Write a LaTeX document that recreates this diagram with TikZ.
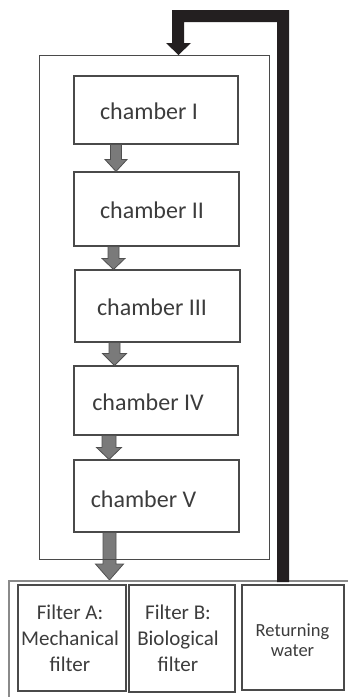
\documentclass[tikz,border=0pt]{standalone}
\usepackage{fontspec}
\setmainfont{Carlito}
\usetikzlibrary{calc}
\definecolor{boxline}{HTML}{4A4A4A}
\definecolor{txt}{HTML}{3C3C3C}
\definecolor{arrfill}{HTML}{7A7A7A}
\definecolor{arrline}{HTML}{505050}
\definecolor{pipe}{HTML}{231F20}
\definecolor{frameline}{HTML}{8A8A8A}
\tikzset{
  chamberbox/.style={draw=boxline, line width=1.1pt, inner sep=0pt, minimum width=#1},
  filterbox/.style={draw=boxline, line width=1.1pt, inner sep=0pt},
  chambertext/.style={text=txt, inner sep=0pt, font=\fontsize{24}{28}\selectfont},
  filtertext/.style={text=txt, inner sep=0pt, align=center, font=\fontsize{21}{26}\selectfont},
  rwtext/.style={text=txt, inner sep=0pt, align=center, font=\fontsize{18.5}{20}\selectfont},
  garrowstyle/.style={fill=arrfill, draw=arrline, line width=0.8pt, line join=miter},
}
% #1 top node, #2 bottom node, #3 x centre, #4 shaft half width, #5 head half width, #6 head length
\newcommand\grayarrow[6]{%
  \path let \p1=(#1.south), \p2=(#2.north) in [garrowstyle]
    (#3pt-#4pt,\y1) -- (#3pt+#4pt,\y1) -- (#3pt+#4pt,\y2+#6pt) -- (#3pt+#5pt,\y2+#6pt)
    -- (#3pt,\y2) -- (#3pt-#5pt,\y2+#6pt) -- (#3pt-#4pt,\y2+#6pt) -- cycle;}
\begin{document}
\begin{tikzpicture}[x=1pt,y=-1pt]
\useasboundingbox (0,0) rectangle (348,697);
% chambers
\node[chamberbox=164pt, minimum height=68pt] (c1) at (156,110) {};
\node[chamberbox=165pt, minimum height=74pt] (c2) at (156.5,209) {};
\node[chamberbox=165pt, minimum height=72pt] (c3) at (157.5,306) {};
\node[chamberbox=164pt, minimum height=69pt] (c4) at (156,400.5) {};
\node[chamberbox=165pt, minimum height=72pt] (c5) at (156.5,496) {};
\node[chambertext] (t1) at (149,111) {chamber I};
\node[chambertext] (t2) at (152,210) {chamber II};
\node[chambertext] (t3) at (152,307) {chamber III};
\node[chambertext] (t4) at (148,402) {chamber IV};
\node[chambertext] (t5) at (143.5,499) {chamber V};
% gray arrows between chambers
\grayarrow{c1}{c2}{116}{5.5}{11}{12}
\grayarrow{c2}{c3}{113.5}{5.5}{11.5}{11}
\grayarrow{c3}{c4}{114.5}{5.5}{12}{12}
\grayarrow{c4}{c5}{109}{7}{12.5}{12}
% bottom frame
\coordinate (fl) at (9,697);
\coordinate (fc) at (9,581);
\coordinate (fr) at (348,581);
\coordinate (tipV) at (109.5,580);
\path let \p1=(c5.south), \p2=(tipV) in [garrowstyle]
  (103pt,\y1) -- (116pt,\y1) -- (116pt,\y2+16pt) -- (123.5pt,\y2+16pt)
  -- (\x2,\y2) -- (95.5pt,\y2+16pt) -- (103pt,\y2+16pt) -- cycle;
% outer tank box
\node[draw=boxline, line width=1pt, inner sep=0pt, minimum width=230pt, minimum height=504pt] (tank) at (154,307.5) {};
\draw[frameline, line width=1.4pt] (fl) -- (fc) -- (fr);
% filters
\node[filterbox, minimum width=108pt, minimum height=106pt] (fa) at (72,638) {};
\node[filterbox, minimum width=106pt, minimum height=107pt] (fb) at (182,638.5) {};
\node[filterbox, minimum width=102pt, minimum height=105pt] (rw) at (293,637.5) {};
\node[filtertext] (fat) at (70,638.5) {Filter A:\\Mechanical\\filter};
\node[filtertext] (fbt) at (178,638.5) {Filter B:\\Biological\\filter};
\node[rwtext] (rwt) at (292.5,640) {Returning\\water};
% return pipe
\coordinate (pbot) at (283,582);
\coordinate (ptip) at (178.5,55);
\fill[pipe] (pbot) ++(-6,0) -- (277,22) -- (184,22) -- (184,43) -- (191,43) -- (ptip)
  -- (166,43) -- (172,43) -- (172,10) -- (289,10) -- (289,582) -- cycle;
\end{tikzpicture}
\end{document}
